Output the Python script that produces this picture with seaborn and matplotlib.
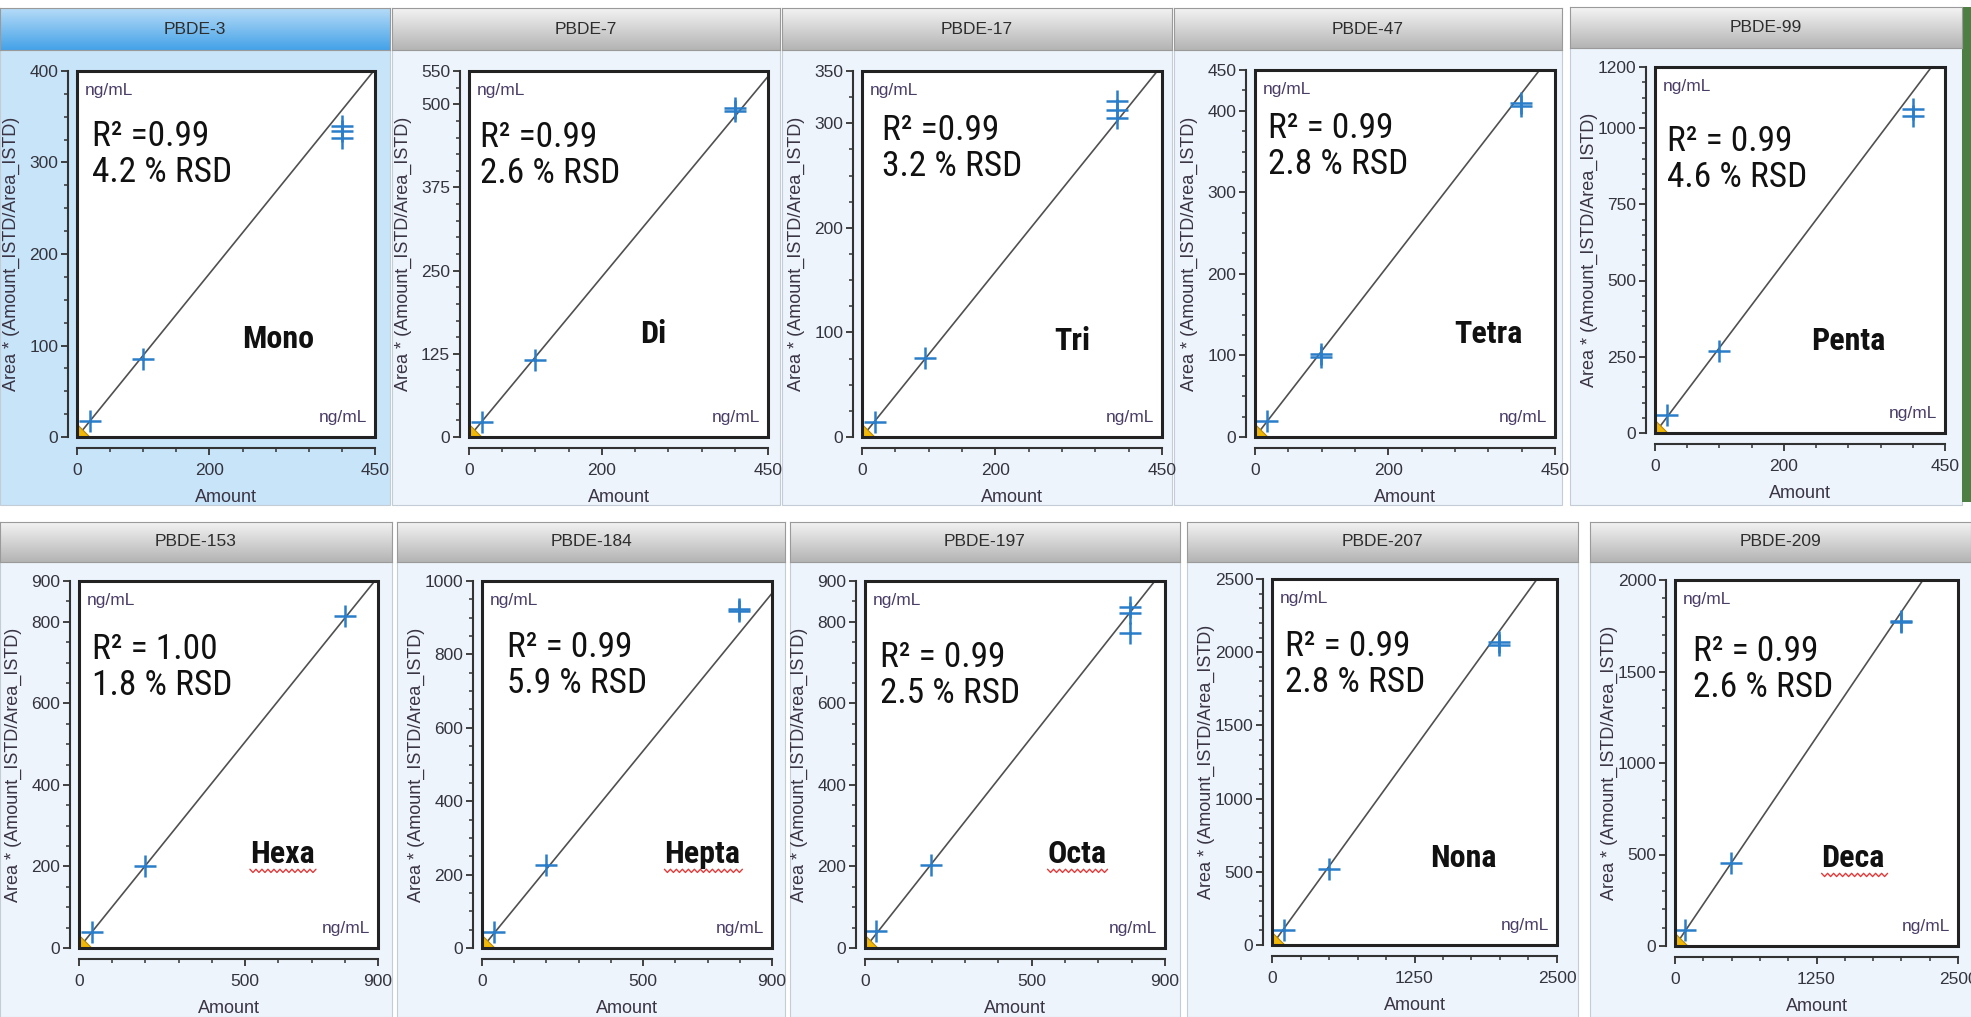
"""Calibration curves for ten PBDE congeners (Mono- to Deca-brominated),
laid out like the instrument software's 2 x 5 calibration panel view."""
import matplotlib
matplotlib.use("Agg")
import matplotlib.pyplot as plt
import numpy as np
import seaborn as sns
from matplotlib import font_manager
from matplotlib.colors import LinearSegmentedColormap
from matplotlib.lines import Line2D
from matplotlib.patches import Rectangle
from matplotlib.ticker import FixedLocator, MultipleLocator

# ---------------------------------------------------------------------------
# Data
# ---------------------------------------------------------------------------
TITLES = ["PBDE-3", "PBDE-7", "PBDE-17", "PBDE-47", "PBDE-99",
          "PBDE-153", "PBDE-184", "PBDE-197", "PBDE-207", "PBDE-209"]
HOMOLOGS = ["Mono", "Di", "Tri", "Tetra", "Penta",
            "Hexa", "Hepta", "Octa", "Nona", "Deca"]
R2_TEXT = ["R\u00b2 =0.99", "R\u00b2 =0.99", "R\u00b2 =0.99", "R\u00b2 = 0.99", "R\u00b2 = 0.99",
           "R\u00b2 = 1.00", "R\u00b2 = 0.99", "R\u00b2 = 0.99", "R\u00b2 = 0.99", "R\u00b2 = 0.99"]
RSD_TEXT = ["4.2 % RSD", "2.6 % RSD", "3.2 % RSD", "2.8 % RSD", "4.6 % RSD",
            "1.8 % RSD", "5.9 % RSD", "2.5 % RSD", "2.8 % RSD", "2.6 % RSD"]

X_MAX = [450, 450, 450, 450, 450, 900, 900, 900, 2500, 2500]
Y_MAX = [400, 550, 350, 450, 1200, 900, 1000, 900, 2500, 2000]
X_TICKS = [[0, 200, 450]] * 5 + [[0, 500, 900]] * 3 + [[0, 1250, 2500]] * 2
Y_TICKS = [
    [0, 100, 200, 300, 400],
    [0, 125, 250, 375, 500, 550],
    [0, 100, 200, 300, 350],
    [0, 100, 200, 300, 400, 450],
    [0, 250, 500, 750, 1000, 1200],
    [0, 200, 400, 600, 800, 900],
    [0, 200, 400, 600, 800, 1000],
    [0, 200, 400, 600, 800, 900],
    [0, 500, 1000, 1500, 2000, 2500],
    [0, 500, 1000, 1500, 2000],
]
X_MINOR = [50, 50, 50, 50, 50, 100, 100, 100, 250, 250]
Y_MINOR = [25, 25, 25, 25, 50, 50, 50, 50, 100, 100]

# calibration replicates: amount (ng/mL) and response
CAL_X = [
    [20, 100, 400, 400, 400],
    [20, 100, 400, 400],
    [20, 94, 382, 382, 382],
    [18, 99, 99, 399, 399],
    [18, 100, 400, 400],
    [38, 200, 802],
    [38, 199, 798, 798],
    [32, 198, 795, 795, 795],
    [102, 503, 1988, 1988],
    [88, 491, 2000, 2000],
]
CAL_Y = [
    [17, 85, 340, 334, 327],
    [22, 116, 494, 490],
    [14, 76, 321, 313, 305],
    [20, 102, 98, 409, 406],
    [60, 270, 1061, 1039],
    [39, 201, 815],
    [43, 225, 925, 918],
    [41, 203, 837, 821, 772],
    [102, 517, 2072, 2049],
    [87, 452, 1778, 1769],
]
# slope of the fitted calibration line (through origin)
FIT_SLOPE = [0.893, 1.204, 0.79, 1.054, 2.797, 1.011, 1.074, 1.035, 1.075, 0.913]
BLANK_X = [0] * 10
BLANK_Y = [0] * 10

# ---------------------------------------------------------------------------
# Layout (pixel boxes in the 1971 x 1017 canvas, top-down)
# ---------------------------------------------------------------------------
W, H = 1971, 1017
PLOT_BOX = [
    (77, 71, 375, 437), (469, 71, 768, 437), (862, 71, 1162, 437),
    (1255, 70, 1555, 437), (1655, 67, 1945, 433),
    (79, 581, 378, 948), (482, 581, 772, 948), (865, 581, 1165, 948),
    (1272, 579, 1557, 945), (1675, 580, 1958, 946),
]
HEADER_BOX = [
    (0, 8, 390, 50), (392, 8, 780, 50), (782, 8, 1172, 50),
    (1174, 8, 1562, 50), (1570, 7, 1962, 48),
    (0, 522, 392, 562), (397, 522, 785, 562), (790, 522, 1180, 562),
    (1187, 522, 1578, 562), (1590, 522, 1971, 562),
]
BODY_BOX = [
    (0, 50, 390, 505), (392, 50, 780, 505), (782, 50, 1172, 505),
    (1174, 50, 1562, 505), (1570, 48, 1962, 505),
    (0, 562, 392, 1017), (397, 562, 785, 1017), (790, 562, 1180, 1017),
    (1187, 562, 1578, 1017), (1590, 562, 1971, 1017),
]
R2_OFFSET = [(15, 49), (11, 50), (20, 43), (13, 42), (12, 58),
             (13, 52), (25, 50), (15, 60), (13, 51), (18, 55)]
LABEL_POS = [(0.675, 0.243), (0.615, 0.257), (0.70, 0.238), (0.777, 0.257),
             (0.666, 0.227), (0.68, 0.232), (0.76, 0.232), (0.707, 0.232),
             (0.67, 0.213), (0.63, 0.216)]
UNDERLINED = {"Hexa", "Hepta", "Octa", "Deca"}

POINT_BLUE = "#2a7dc9"
FIT_GREY = "#505050"
LABEL_INK = "#3a3444"
UNIT_INK = "#4a3d66"


def px_rect(x0, y0, x1, y1):
    return [x0 / W, 1 - y1 / H, (x1 - x0) / W, (y1 - y0) / H]


def _fonts():
    names = sorted({f.name for f in font_manager.fontManager.ttflist})
    base = "Liberation Sans" if "Liberation Sans" in names else "DejaVu Sans"
    narrow = None
    for pref in ("Liberation Sans Narrow", "Arial Narrow", "Roboto Condensed",
                 "Open Sans Condensed", "DejaVu Sans Condensed"):
        if pref in names:
            narrow = pref
            break
    if narrow is None:
        cands = [n for n in names if "Narrow" in n or "Condensed" in n]
        narrow = cands[0] if cands else None
    return base, narrow


def _style(base):
    sns.set_theme(style="white")
    plt.rcParams["font.family"] = [base, "DejaVu Sans"]
    plt.rcParams["savefig.dpi"] = 100


def draw_header(fig, box, title, selected):
    ax = fig.add_axes(px_rect(*box))
    if selected:
        cmap = LinearSegmentedColormap.from_list("hdr", ["#45a2e8", "#b8ddf8"])
    else:
        cmap = LinearSegmentedColormap.from_list("hdr", ["#b4b4b4", "#f4f4f4"])
    ax.imshow(np.linspace(0, 1, 64)[:, None], cmap=cmap, aspect="auto",
              extent=[0, 1, 0, 1], origin="lower")
    ax.set_xlim(0, 1)
    ax.set_ylim(0, 1)
    ax.set_xticks([])
    ax.set_yticks([])
    for sp in ax.spines.values():
        sp.set_color("#9a9a9a")
        sp.set_linewidth(0.8)
    ax.text(0.5, 0.5, title, ha="center", va="center", fontsize=12.5,
            color="#2e2e2e")


def draw_panel(fig, i, big_font):
    x0, y0, x1, y1 = PLOT_BOX[i]
    wpx, hpx = x1 - x0, y1 - y0
    ax = fig.add_axes(px_rect(*PLOT_BOX[i]), zorder=3)
    ax.set_facecolor("white")

    xmax, ymax = X_MAX[i], Y_MAX[i]
    fit_x = np.array([0, xmax * 1.2])
    sns.lineplot(x=fit_x, y=FIT_SLOPE[i] * fit_x, ax=ax, color=FIT_GREY,
                 linewidth=1.2, zorder=2)
    sns.scatterplot(x=CAL_X[i], y=CAL_Y[i], ax=ax, marker="+", s=250,
                    color=POINT_BLUE, linewidth=1.8, zorder=3)
    sns.scatterplot(x=BLANK_X[i:i + 1], y=BLANK_Y[i:i + 1], ax=ax, marker="D",
                    s=170, color="#f2b807", edgecolor="#b58a10", linewidth=0.8,
                    zorder=4)

    ax.set_xlim(0, xmax)
    ax.set_ylim(0, ymax)
    ax.xaxis.set_major_locator(FixedLocator(X_TICKS[i]))
    ax.yaxis.set_major_locator(FixedLocator(Y_TICKS[i]))
    ax.xaxis.set_minor_locator(MultipleLocator(X_MINOR[i]))
    ax.yaxis.set_minor_locator(MultipleLocator(Y_MINOR[i]))

    for side in ("top", "right"):
        ax.spines[side].set_visible(False)
    ax.spines["left"].set_position(("outward", 6.5))
    ax.spines["bottom"].set_position(("outward", 8))
    for side in ("left", "bottom"):
        ax.spines[side].set_color("#333333")
        ax.spines[side].set_linewidth(1.5)
    ax.add_patch(Rectangle((0, 0), 1, 1, transform=ax.transAxes, fill=False,
                           edgecolor="#222222", linewidth=2.2, clip_on=False,
                           zorder=6))

    ax.tick_params(axis="both", which="major", direction="out", length=5,
                   width=1.3, color="#333333", labelsize=12.5,
                   labelcolor="#34343e", left=True, bottom=True)
    ax.tick_params(axis="x", which="major", pad=6)
    ax.tick_params(axis="y", which="major", pad=2)
    ax.tick_params(axis="both", which="minor", direction="out", length=3,
                   width=1.1, color="#333333", left=True, bottom=True)

    ax.set_xlabel("Amount", fontsize=13, color=LABEL_INK, va="top")
    ax.xaxis.set_label_coords(0.5, -52 / hpx)
    ax.set_ylabel("Area * (Amount_ISTD/Area_ISTD)", fontsize=13,
                  color=LABEL_INK, va="center")
    ax.yaxis.set_label_coords(-66 / wpx, 0.5)

    ax.text(8 / wpx, 1 - 12 / hpx, "ng/mL", transform=ax.transAxes,
            ha="left", va="top", fontsize=12.5, color=UNIT_INK, zorder=7)
    ax.text(1 - 8 / wpx, 15 / hpx, "ng/mL", transform=ax.transAxes,
            ha="right", va="baseline", fontsize=12.5, color=UNIT_INK, zorder=7)

    family, r2_size, lbl_size = big_font
    dx, dy = R2_OFFSET[i]
    ax.text(dx / wpx, 1 - dy / hpx, R2_TEXT[i] + "\n" + RSD_TEXT[i],
            transform=ax.transAxes, ha="left", va="top", fontsize=r2_size,
            family=family, color="#111111", linespacing=1.12, zorder=7)

    fx, fy = LABEL_POS[i]
    lbl = ax.text(fx, fy, HOMOLOGS[i], transform=ax.transAxes, ha="center",
                  va="baseline", fontsize=lbl_size, fontweight="bold",
                  family=family, color="#111111", zorder=7)
    return ax, lbl


def add_squiggle(fig, ax, lbl, renderer):
    bb = lbl.get_window_extent(renderer)
    base_y = ax.transAxes.transform(lbl.get_position())[1] - 8
    xs = np.arange(bb.x0, bb.x1 + 3, 3.0)
    ys = base_y + np.where(np.arange(len(xs)) % 2 == 0, 1.6, -1.6)
    pts = fig.transFigure.inverted().transform(np.column_stack([xs, ys]))
    fig.add_artist(Line2D(pts[:, 0], pts[:, 1], color="#e23a3a",
                          linewidth=1.0, zorder=8))


def main():
    base, narrow = _fonts()
    _style(base)
    if narrow:
        big_font = ([narrow, base, "DejaVu Sans"], 25.5, 23)
    else:
        big_font = ([base, "DejaVu Sans"], 20.5, 18)

    fig = plt.figure(figsize=(W / 100, H / 100), dpi=100)
    fig.patch.set_facecolor("white")

    for i, box in enumerate(BODY_BOX):
        face = "#c8e4f8" if i == 0 else "#edf4fb"
        fig.add_artist(Rectangle((box[0] / W, 1 - box[3] / H),
                                 (box[2] - box[0]) / W, (box[3] - box[1]) / H,
                                 transform=fig.transFigure, facecolor=face,
                                 edgecolor="#c4ccd6", linewidth=0.8, zorder=0))
    # green window edge on the right of the top row
    fig.add_artist(Rectangle((1962 / W, 1 - 502 / H), 9 / W, 495 / H,
                             transform=fig.transFigure, facecolor="#4f7e45",
                             edgecolor="none", zorder=0))

    for i, box in enumerate(HEADER_BOX):
        draw_header(fig, box, TITLES[i], selected=(i == 0))

    panels = [draw_panel(fig, i, big_font) for i in range(len(TITLES))]

    fig.canvas.draw()
    renderer = fig.canvas.get_renderer()
    for ax, lbl in panels:
        if lbl.get_text() in UNDERLINED:
            add_squiggle(fig, ax, lbl, renderer)

    fig.savefig("out.png", dpi=100)
    plt.close(fig)


if __name__ == "__main__":
    main()
